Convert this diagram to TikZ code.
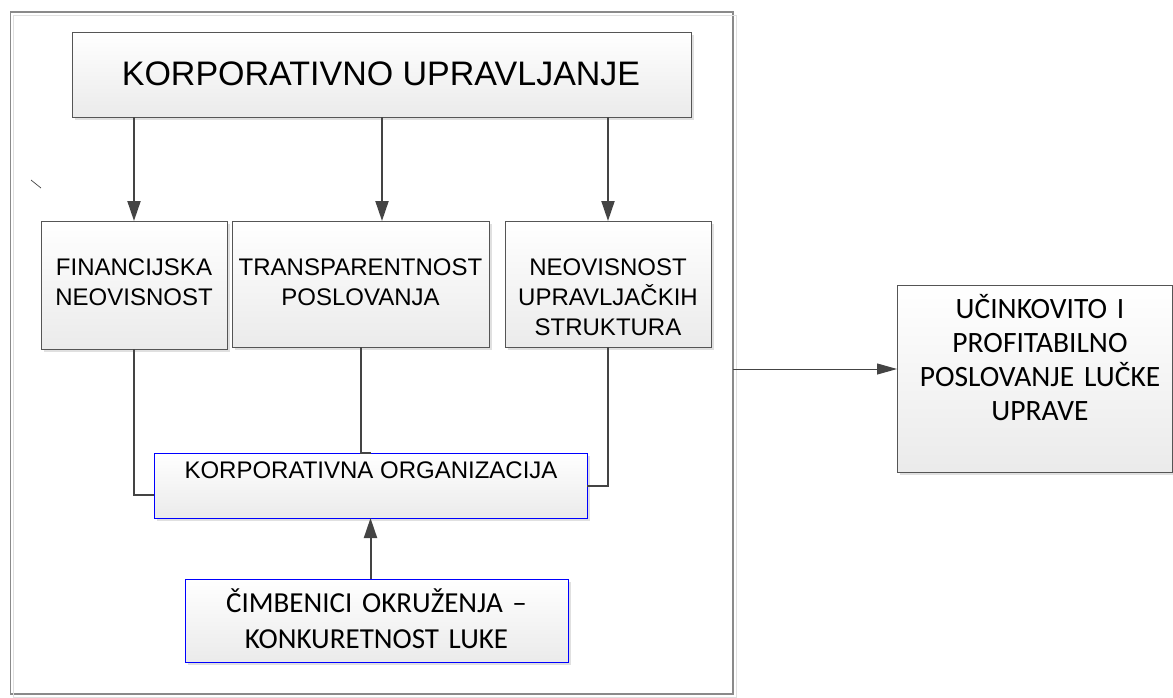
\documentclass[tikz,border=0pt]{standalone}
\usepackage{fontspec}
\setmainfont{Liberation Sans}
\newfontfamily\calib{Carlito}
\usetikzlibrary{arrows.meta,shadows}
\definecolor{edgec}{HTML}{555555}
\definecolor{connc}{HTML}{444444}
\definecolor{framec}{HTML}{8A8A8A}
\begin{document}
\begin{tikzpicture}[x=1pt,y=-1pt,
  box/.style={draw=edgec, line width=0.9pt, top color=white, bottom color=black!8,
    drop shadow={shadow xshift=3pt, shadow yshift=-3pt, fill=black!12, opacity=1},
    inner sep=0pt, outer sep=0pt},
  bluebox/.style={box, draw=blue},
  lbl/.style={inner sep=0pt, outer sep=0pt, anchor=base, align=center},
  link/.style={draw=connc, line width=2pt},
  arr/.style={link, -{Triangle[length=20pt,width=13pt]}},
  thinarr/.style={draw=connc, line width=1pt, -{Triangle[length=20pt,width=11pt]}}
]
\useasboundingbox (0,0) rectangle (1173,697);
% outer frame
\node[draw=framec, line width=1.2pt, minimum width=722.5pt, minimum height=682pt,
  inner sep=0pt, outer sep=0pt] (frame) at (371.75,353) {};
\draw[black!12, line width=1pt] ([shift={(3pt,-3pt)}]frame.south west) rectangle ([shift={(3pt,-3pt)}]frame.north east);
% stray mark
\draw[black!75, line width=0.7pt] (31,180) -- (41,188);
% boxes
\node[box, minimum width=619pt, minimum height=85pt] (top) at (381.5,74.5) {};
\node[box, minimum width=186pt, minimum height=128pt] (fin) at (134,285) {};
\node[box, minimum width=257pt, minimum height=126pt] (trans) at (360.5,284) {};
\node[box, minimum width=206pt, minimum height=126pt] (neo) at (608,284) {};
\node[bluebox, minimum width=433pt, minimum height=65pt] (org) at (370.5,485.5) {};
\node[bluebox, minimum width=383pt, minimum height=83pt] (cim) at (376.5,620.5) {};
\node[box, minimum width=275pt, minimum height=187pt] (res) at (1034.5,378.5) {};
% texts
\node[lbl, font=\fontsize{34}{40}\selectfont] (toptxt) at (381,85) {KORPORATIVNO UPRAVLJANJE};
\node[lbl, text width=186pt, font=\fontsize{24}{30}\selectfont] (fintxt) at (134,275) {FINANCIJSKA\\NEOVISNOST};
\node[lbl, text width=257pt, font=\fontsize{24}{30}\selectfont] (transtxt) at (360.5,275) {TRANSPARENTNOST\\POSLOVANJA};
\node[lbl, text width=206pt, font=\fontsize{24}{30}\selectfont] (neotxt) at (608,275) {NEOVISNOST\\UPRAVLJAČKIH\\STRUKTURA};
\node[lbl, font=\fontsize{24}{30}\selectfont] (orgtxt) at (371,478) {KORPORATIVNA ORGANIZACIJA};
\node[lbl, text width=383pt, font=\calib\fontsize{29}{36.5}\selectfont] (cimtxt) at (376.5,612) {ČIMBENICI OKRUŽENJA –\\KONKURETNOST LUKE};
\node[lbl, text width=275pt, font=\calib\fontsize{29.5}{34}\selectfont] (restxt) at (1040,318) {UČINKOVITO I\\PROFITABILNO\\POSLOVANJE LUČKE\\UPRAVE};
% connectors
\coordinate (xt) at (382,0);
\coordinate (ay) at (0,369);
\draw[arr] (top.south -| fin.north) -- (fin.north);
\draw[arr] (top.south -| xt) -- (trans.north -| xt);
\draw[arr] (top.south -| neo.north) -- (neo.north);
\draw[link] (fin.south) |- ([yshift=-9.5pt]org.west);
\draw[link] (trans.south) -- (trans.south |- org.north) -- (org.north);
\draw[link] (neo.south) |- (org.east);
\draw[arr] (cim.north -| org.south) -- (org.south);
\draw[thinarr] (frame.east |- ay) -- (res.west |- ay);
\end{tikzpicture}
\end{document}
